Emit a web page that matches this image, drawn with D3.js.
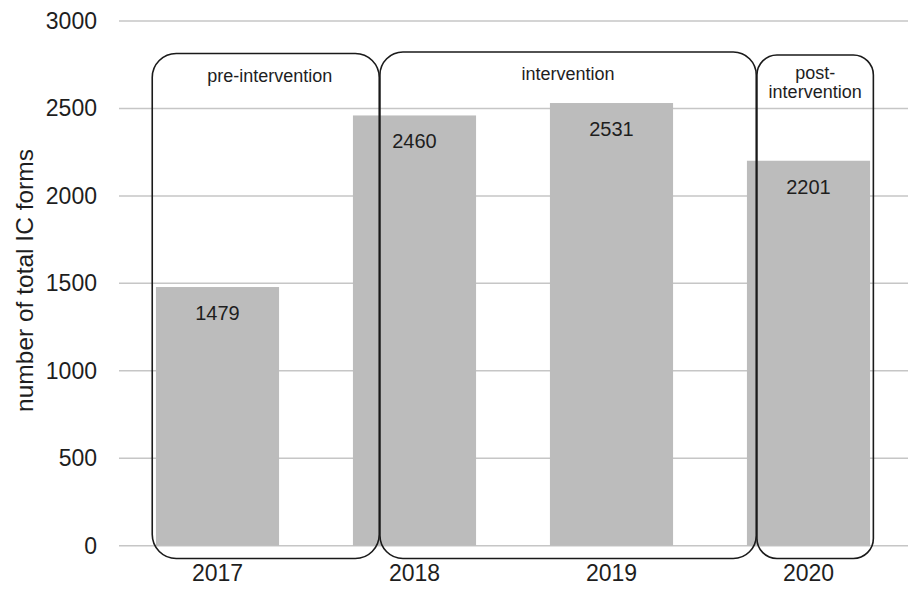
<!DOCTYPE html>
<html>
<head>
<meta charset="utf-8">
<script src="https://cdn.jsdelivr.net/npm/d3@7"></script>
<style>
  html, body { margin: 0; padding: 0; background: #fff; }
  svg { display: block; font-family: Arial, "Liberation Sans", sans-serif; }
</style>
</head>
<body>
<svg id="chart" width="908" height="589"></svg>
<script>
// Yearly totals of IC forms
const years = ["2017", "2018", "2019", "2020"];
const totals = [1479, 2460, 2531, 2201];
const yTicks = [0, 500, 1000, 1500, 2000, 2500, 3000];

// Study phases, each spanning a run of years
const phaseNames = ["pre-intervention", "intervention", "post-intervention"];
const phaseFirst = ["2017", "2018", "2020"];
const phaseLast = ["2017", "2019", "2020"];
const phaseLines = [["pre-intervention"], ["intervention"], ["post-", "intervention"]];

(function () {
  const svg = d3.select("#chart");
  const W = 908;
  const plotLeft = 119, plotRight = 907, plotTop = 21, plotBottom = 545.7;

  const x = d3.scaleBand()
    .domain(years)
    .range([plotLeft, plotRight])
    .paddingInner(0.375)
    .paddingOuter(0.1875);

  const y = d3.scaleLinear()
    .domain([0, 3000])
    .range([plotBottom, plotTop]);

  const textColor = "#1e1e1e";

  // Horizontal gridlines
  svg.append("g")
    .selectAll("line")
    .data(yTicks)
    .join("line")
    .attr("x1", plotLeft)
    .attr("x2", W)
    .attr("y1", d => y(d))
    .attr("y2", d => y(d))
    .attr("stroke", "#c6c6c6")
    .attr("stroke-width", 1.5);

  // Y axis labels
  const yAxis = d3.axisLeft(y).tickValues(yTicks).tickSize(0).tickPadding(0).tickFormat(d3.format("d"));
  const yg = svg.append("g")
    .attr("transform", "translate(97,0)")
    .call(yAxis);
  yg.select(".domain").remove();
  yg.selectAll("text")
    .attr("font-size", 23)
    .attr("fill", textColor)
    .attr("font-family", "Arial, 'Liberation Sans', sans-serif");

  // X axis labels
  const xAxis = d3.axisBottom(x).tickSize(0).tickPadding(0);
  const xg = svg.append("g")
    .attr("transform", "translate(0,564.5)")
    .call(xAxis);
  xg.select(".domain").remove();
  xg.selectAll("text")
    .attr("font-size", 23)
    .attr("fill", textColor)
    .attr("dy", "0.71em")
    .attr("font-family", "Arial, 'Liberation Sans', sans-serif");

  // Y axis title
  svg.append("text")
    .attr("transform", `translate(33,${(148 + 413) / 2}) rotate(-90)`)
    .attr("text-anchor", "middle")
    .attr("font-size", 24.5)
    .attr("fill", textColor)
    .text("number of total IC forms");

  // Bars
  svg.append("g")
    .selectAll("rect")
    .data(years)
    .join("rect")
    .attr("x", d => x(d))
    .attr("width", x.bandwidth())
    .attr("y", (d, i) => y(totals[i]))
    .attr("height", (d, i) => y(0) - y(totals[i]))
    .attr("fill", "#bcbcbc");

  // Value labels inside the bars
  svg.append("g")
    .selectAll("text")
    .data(years)
    .join("text")
    .attr("x", d => x(d) + x.bandwidth() / 2)
    .attr("y", (d, i) => y(totals[i]) + 33)
    .attr("text-anchor", "middle")
    .attr("font-size", 20)
    .attr("fill", textColor)
    .text((d, i) => totals[i]);

  // Phase boxes: rounded outlines around the years of each phase
  const boxRight = [x("2018") + 26.3, x("2020") + 9.3, x(phaseLast[2]) + x.bandwidth() + 3.3];
  const boxLeft = [x(phaseFirst[0]) - 3.7, boxRight[0] + 0.7, boxRight[1] + 0.7];
  const boxTop = [53.5, 52, 55];
  const boxRadius = [24, 23, 20];
  const boxBottom = 558.5;

  const phases = phaseNames.map((name, i) => ({
    name, lines: phaseLines[i],
    x0: boxLeft[i], x1: boxRight[i], y0: boxTop[i], r: boxRadius[i]
  }));

  const pg = svg.append("g");
  pg.selectAll("rect")
    .data(phases)
    .join("rect")
    .attr("x", d => d.x0)
    .attr("y", d => d.y0)
    .attr("width", d => d.x1 - d.x0)
    .attr("height", d => boxBottom - d.y0)
    .attr("rx", d => d.r)
    .attr("ry", d => d.r)
    .attr("fill", "none")
    .attr("stroke", "#1a1a1a")
    .attr("stroke-width", 1.6);

  const baseLine = [82, 80, 79];
  pg.selectAll("text")
    .data(phases)
    .join("text")
    .attr("text-anchor", "middle")
    .attr("font-size", 18)
    .attr("fill", textColor)
    .each(function (d, i) {
      const t = d3.select(this);
      const cx = i === 0 ? (d.x0 + d.x1) / 2 + 4 : (d.x0 + d.x1) / 2;
      d.lines.forEach((line, k) => {
        t.append("tspan")
          .attr("x", cx)
          .attr("y", baseLine[i] + k * 18.5)
          .text(line);
      });
    });
})();
</script>
</body>
</html>
